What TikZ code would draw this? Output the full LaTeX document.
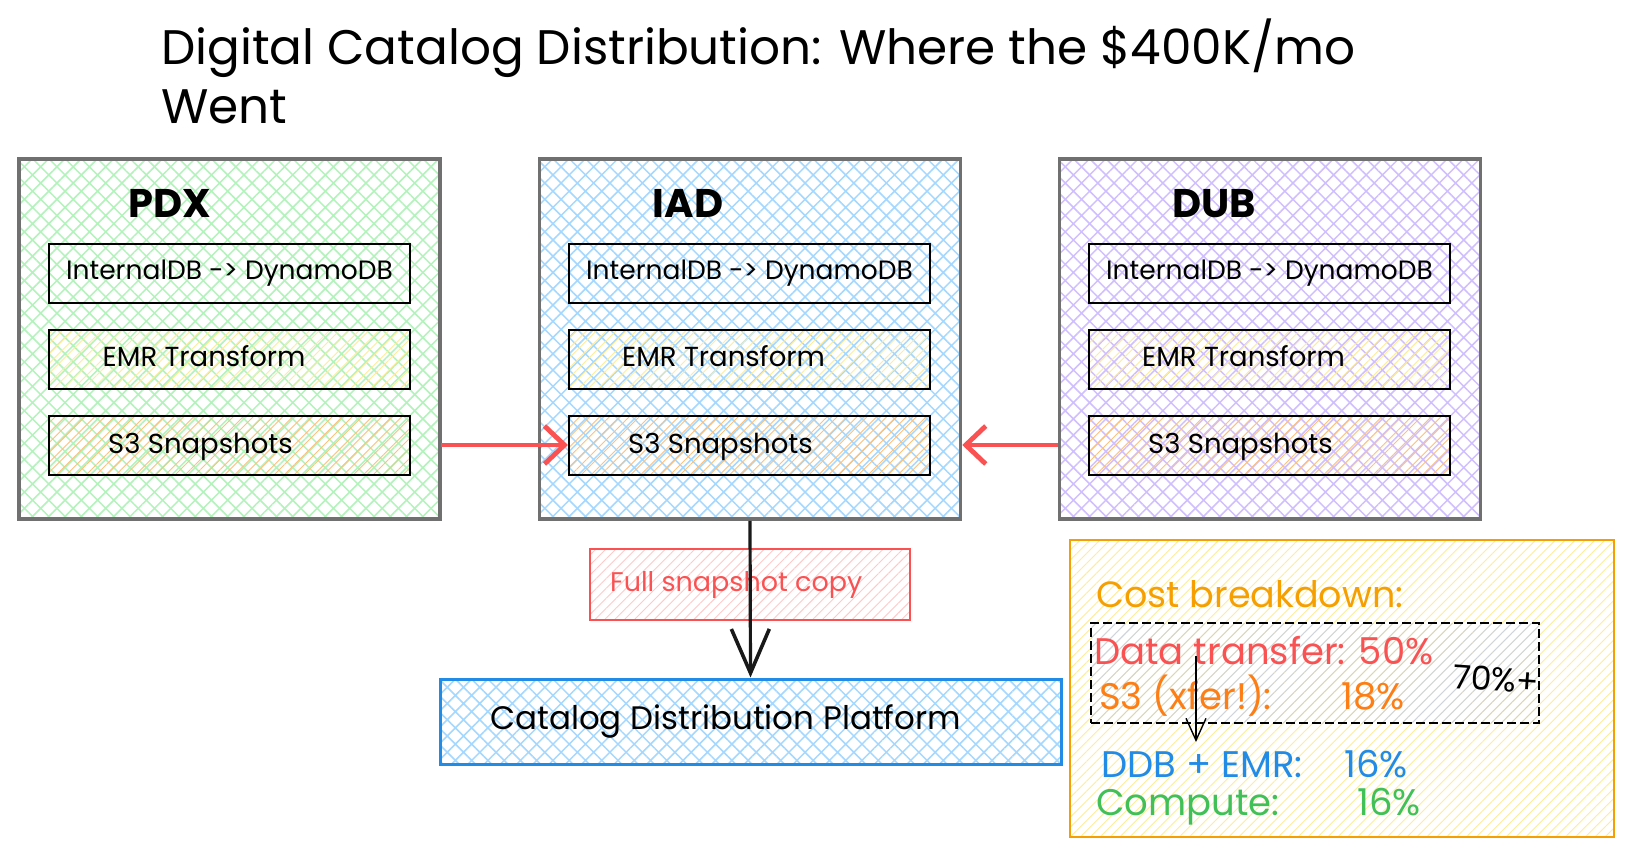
\documentclass[tikz,border=0pt]{standalone}
\usepackage{fontspec}
\setmainfont{Poppins}
\usetikzlibrary{patterns.meta,arrows.meta}
\newcommand\fsz[1]{\fontsize{#1bp}{#1bp}\selectfont}
\definecolor{regiongray}{HTML}{707070}
\definecolor{pgreen}{HTML}{B2F2BB}
\definecolor{pblue}{HTML}{A5D8FF}
\definecolor{ppurple}{HTML}{D0BFFF}
\definecolor{pyellow}{HTML}{FFEC99}
\definecolor{porange}{HTML}{FFC078}
\definecolor{pred}{HTML}{FFC9C9}
\definecolor{pgray}{HTML}{CED4DA}
\definecolor{xred}{HTML}{FA5252}
\definecolor{xblue}{HTML}{228BE6}
\definecolor{xorange}{HTML}{F59F00}
\definecolor{xorange2}{HTML}{FD7E14}
\definecolor{xgreen}{HTML}{40C057}
\tikzset{
  x=1bp, y=-1bp,
  region/.style={draw=regiongray, line width=3.5bp, minimum width=421bp, minimum height=360bp, inner sep=0pt},
  xhatch/.style={pattern={Hatch[angle=45,distance=11.5bp,line width=1.5bp]}, pattern color=#1},
  hachure/.style={pattern={Lines[angle=45,distance=7bp,line width=0.9bp]}, pattern color=#1},
  regionlabel/.style={font=\fsz{40}\bfseries, anchor=base, inner sep=0pt},
  stepbox/.style={draw=black, line width=2bp, minimum width=361bp, minimum height=59bp, inner sep=0pt, font=\fsz{26.5}},
  steptext/.style={font=\fsz{27.5}, anchor=base west, inner sep=0pt},
  redarrow/.style={draw=xred, line width=4.8bp, -{Straight Barb[length=20bp,width=38bp,line width=4.8bp]}},
  blackarrow/.style={draw=black!90, line width=3.2bp, -{Straight Barb[length=44bp,width=38bp,line width=3.6bp]}},
  thinarrow/.style={draw=black, line width=1.4bp, -{Straight Barb[length=22bp,width=20bp,line width=1.4bp]}},
  costtext/.style={font=\fsz{37}, anchor=base west, inner sep=0pt},
}
\begin{document}
\begin{tikzpicture}
\useasboundingbox (0,0) rectangle (1634,858);
\fill[white] (0,0) rectangle (1634,858);

% title
\node[font=\fsz{48.5}, anchor=base west, inner sep=0pt, align=left] (title) at (161,123)
  {Digital Catalog Distribution: Where the \$400K/mo\\[10bp]Went};

% regions
\node[region, xhatch=pgreen] (pdx) at (229.5,339) {};
\node[region, xhatch=pblue] (iad) at (750,339) {};
\node[region, xhatch=ppurple] (dub) at (1270,339) {};
\node[regionlabel] (pdxl) at (170,217) {PDX};
\node[regionlabel] (iadl) at (688,217) {IAD};
\node[regionlabel] (dubl) at (1214,217) {DUB};

% inner steps
\foreach \r/\cx in {p/229.5, i/749.5, d/1269.5}{
  \node[stepbox] (\r1) at (\cx,273.5) {InternalDB -> DynamoDB};
  \node[stepbox, hachure=pyellow] (\r2) at (\cx,359) {};
  \node[stepbox, hachure=porange] (\r3) at (\cx,445) {};
  \node[steptext] (\r2t) at ([xshift=54bp]\r2.west |- 0,366) {EMR Transform};
  \node[steptext] (\r3t) at ([xshift=60bp]\r3.west |- 0,453) {S3 Snapshots};
}

% red arrows
\draw[redarrow] (pdx.east |- p3.center) -- (i3.west);
\draw[redarrow] (dub.west |- d3.center) -- (iad.east |- d3.center);

% full snapshot copy
\node[draw=xred, line width=2.5bp, hachure=pred, minimum width=320bp, minimum height=71bp, inner sep=0pt] (copy) at (750,584.5) {};
\node[font=\fsz{27}, text=xred, anchor=base west, inner sep=0pt] (copyt) at (610,591) {Full snapshot copy};

% catalog platform
\node[draw=xblue, line width=3bp, xhatch=pblue, minimum width=621bp, minimum height=85bp, inner sep=0pt] (cat) at (750.5,721.5) {};
\node[font=\fsz{32.5}, anchor=base west, inner sep=0pt] (catt) at (490,729) {Catalog Distribution Platform};

\draw[blackarrow] (iad.south) -- (cat.north);

% cost breakdown
\node[draw=xorange, line width=2.5bp, hachure=pyellow, minimum width=544bp, minimum height=297bp, inner sep=0pt] (cost) at (1342,688.5) {};
\node[draw=black, line width=2.5bp, dash pattern=on 9bp off 4bp, hachure=pgray, minimum width=448bp, minimum height=100bp, inner sep=0pt] (hot) at (1315,673) {};
\node[font=\fsz{36.5}, text=xorange, anchor=base west, inner sep=0pt] (costt) at (1096,607) {Cost breakdown:};
\node[costtext, text=xred] (dt) at (1094,664) {Data transfer: 50\%};
\node[costtext, text=xorange2] (s3x) at (1099,709) {\makebox[242bp][l]{S3 (xfer!):}18\%};
\node[font=\fsz{33}, anchor=base west, inner sep=0pt, rotate=-4] (seventy) at (1452,688) {70\%+};
\node[costtext, text=xblue] (ddb) at (1101,777) {\makebox[243bp][l]{DDB + EMR:}16\%};
\node[costtext, text=xgreen] (comp) at (1096,815) {\makebox[261bp][l]{Compute:}16\%};
\coordinate (sa) at (1196,656);
\coordinate (sb) at (1196,742);
\draw[thinarrow] (sa) -- (sb);
\end{tikzpicture}
\end{document}
